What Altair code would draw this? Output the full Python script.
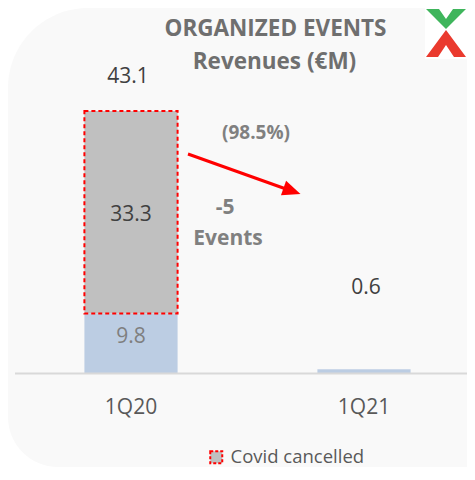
import altair as alt
import pandas as pd

# ---- data ----
quarters = ["1Q20", "1Q21"]
organized = [9.8, 0.6]          # revenues of events actually organized (blue)
covid_cancelled = [33.3, 0.0]   # revenues lost to covid cancellations (grey, dashed)
title_lines = ["ORGANIZED EVENTS", "Revenues (€M)"]
change_pct = "(98.5%)"
event_delta = ["-5", "Events"]
legend_label = "Covid cancelled"

FONT = "Open Sans"
W, H, PB = 459, 365, 94   # whole chart is 459 x 459 so the page never overflows

df = pd.DataFrame({"quarter": quarters, "organized": organized, "covid": covid_cancelled})
df["total"] = df["organized"] + df["covid"]
df["series"] = legend_label

xenc = alt.X(
    "quarter:N",
    sort=quarters,
    scale=alt.Scale(domain=quarters, range=[6.5, 472.5], paddingInner=0.6, paddingOuter=0.3),
    axis=alt.Axis(
        title=None, ticks=False, tickSize=0, domainColor="#d9d9d9", domainWidth=2,
        labelFont=FONT, labelFontSize=21, labelColor="#595959",
        labelBaseline="alphabetic", labelPadding=40, labelAngle=0, zindex=1,
    ),
)
yscale = alt.Scale(domain=[0, 60.04], nice=False, zero=True)

base = alt.Chart(df)

background = alt.Chart(pd.DataFrame({"a": [0]})).mark_rect(
    color="#f9f9f9", cornerRadiusTopLeft=80, cornerRadiusBottomLeft=50
).encode(x=alt.value(0), x2=alt.value(W), y=alt.value(0), y2=alt.value(H + PB))

blue = base.mark_bar(color="#bccde3").encode(
    x=xenc, y=alt.Y("organized:Q", scale=yscale, axis=None)
)

grey = base.transform_filter("datum.covid > 0").mark_bar(
    stroke="#ff0000", strokeWidth=2, strokeDash=[4, 3]
).encode(
    x=xenc,
    y=alt.Y("organized:Q", scale=yscale, axis=None),
    y2="total:Q",
    fill=alt.Fill(
        "series:N",
        scale=alt.Scale(domain=[legend_label], range=["#c0c0c0"]),
        legend=alt.Legend(
            title=None, orient="none", legendX=199, legendY=440,
            symbolType="square", symbolSize=144, symbolStrokeColor="#ff0000",
            symbolStrokeWidth=2, symbolDash=[3, 2], symbolFillColor="#c0c0c0",
            labelFont=FONT, labelFontSize=18.5, labelColor="#595959", labelOffset=5,
        ),
    ),
)

txt = dict(font=FONT, fontSize=21, align="center", baseline="alphabetic")

total_q1 = base.transform_filter("datum.covid > 0").mark_text(
    color="#404040", dx=-3, dy=-28, **txt
).encode(x=xenc, y=alt.Y("total:Q", scale=yscale), text=alt.Text("total:Q", format=".1f"))
total_q2 = base.transform_filter("datum.covid == 0").mark_text(
    color="#404040", dx=2, dy=-75, **txt
).encode(x=xenc, y=alt.Y("total:Q", scale=yscale), text=alt.Text("total:Q", format=".1f"))
covid_lbl = base.transform_filter("datum.covid > 0").transform_calculate(
    mid="datum.organized + datum.covid / 2"
).mark_text(color="#404040", dy=9, **txt).encode(
    x=xenc, y=alt.Y("mid:Q", scale=yscale), text=alt.Text("covid:Q", format=".1f")
)
org_lbl = base.transform_filter("datum.covid > 0").transform_calculate(
    mid="datum.organized / 2"
).mark_text(color="#7f7f7f", dy=0, **txt).encode(
    x=xenc, y=alt.Y("mid:Q", scale=yscale), text=alt.Text("organized:Q", format=".1f")
)


def note(text, x, y, size, color, weight="bold"):
    return alt.Chart(pd.DataFrame({"t": [text]})).mark_text(
        font=FONT, fontSize=size, fontWeight=weight, color=color,
        align="center", baseline="alphabetic",
    ).encode(x=alt.value(x), y=alt.value(y), text="t:N")


title1 = note(title_lines[0], 267.5, 28, 22.5, "#6f6f6f")
title2 = note(title_lines[1], 266.5, 61, 22.5, "#6f6f6f")
pct = note(change_pct, 248, 131, 19, "#808080")
delta1 = note(event_delta[0], 217, 206, 21, "#808080")
delta2 = note(event_delta[1], 220, 237, 21, "#808080")

arrow_line = alt.Chart(pd.DataFrame({"a": [0]})).mark_rule(color="#ff0000", strokeWidth=3).encode(
    x=alt.value(180), y=alt.value(146), x2=alt.value(285), y2=alt.value(183.5)
)
arrow_head = alt.Chart(pd.DataFrame({"a": [0]})).mark_point(
    shape="M1,0 L-1,-0.85 L-1,0.85 Z", filled=True, color="#ff0000", opacity=1,
    size=324, angle=19.6, strokeWidth=0,
).encode(x=alt.value(284), y=alt.value(183))

logo_bg = alt.Chart(pd.DataFrame({"a": [0]})).mark_rect(color="white").encode(
    x=alt.value(417), x2=alt.value(W), y=alt.value(0), y2=alt.value(51)
)
logo_green = alt.Chart(pd.DataFrame({"a": [0]})).mark_point(
    shape="M-0.833,-1 L-0.292,-1 L0,-0.583 L0.292,-1 L0.833,-1 L0,-0.167 Z",
    filled=True, color="#3fb55c", opacity=1, size=2304, strokeWidth=0,
).encode(x=alt.value(438), y=alt.value(25))
logo_red = alt.Chart(pd.DataFrame({"a": [0]})).mark_point(
    shape="M0,-0.125 L0.833,1 L0.333,1 L0,0.5 L-0.333,1 L-0.833,1 Z",
    filled=True, color="#ea3a2e", opacity=1, size=2304, strokeWidth=0,
).encode(x=alt.value(438), y=alt.value(25))

chart = alt.layer(
    background, blue, grey, total_q1, total_q2, covid_lbl, org_lbl,
    title1, title2, pct, delta1, delta2, arrow_line, arrow_head,
    logo_bg, logo_green, logo_red,
).properties(
    width=W, height=H,
    autosize=alt.AutoSizeParams(type="none"),
    padding={"left": 0, "top": 0, "right": 0, "bottom": PB},
    background="white",
).configure_view(stroke=None)

chart.save("out.html", embed_options={"renderer": "svg", "actions": False})
